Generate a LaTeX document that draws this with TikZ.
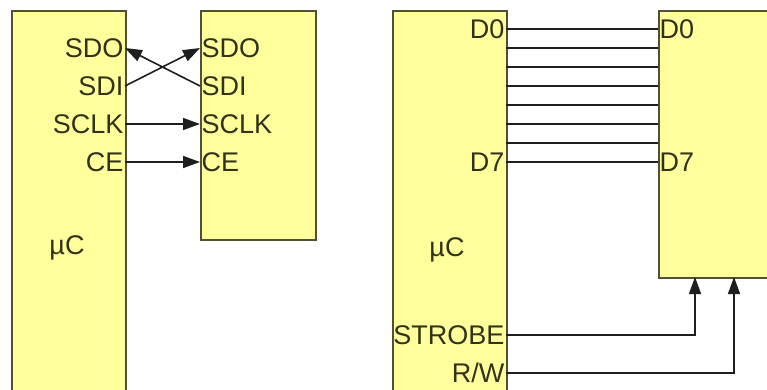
\documentclass[tikz,border=0pt]{standalone}
\usepackage{fontspec}
\setmainfont{Liberation Sans}
\usetikzlibrary{arrows.meta, math}
\definecolor{chipfill}{RGB}{255,255,155}
\definecolor{chipedge}{RGB}{80,80,55}
\definecolor{pintext}{RGB}{50,50,25}
\definecolor{wire}{RGB}{30,30,30}

\tikzset{
 chip/.style={draw=chipedge, fill=chipfill, line width=1.7pt, rectangle, inner sep=0pt},
 pin/.style={text=pintext, font=\fontsize{27}{31}\selectfont, inner sep=1.5pt},
 sig/.style={draw=wire, line width=1.6pt},
 tip/.style={-{Triangle[length=17pt,width=12pt]}},
}

\begin{document}
\begin{tikzpicture}[x=1pt,y=-1pt]
\tikzmath{
\dy=38;
\db=19;
}
\useasboundingbox (0,0) rectangle (767,390);
\clip (0,0) rectangle (767,390);
%serial:
%chips
\node[chip, anchor=north west, minimum width=114pt, minimum height=400pt] (mcuS) at (11,10) {};
\node[chip, anchor=north west, minimum width=115pt, minimum height=229pt] (devS) at (200,10) {};
\node[pin] (labS) at (67,248) {µC};
%pins
\foreach \i/\name in {0/SDO,1/SDI,2/SCLK,3/CE}{
 \tikzmath{
   \yp=48+\i*\dy;
 }
 \coordinate (mS\i) at (125,\yp);
 \coordinate (dS\i) at (200,\yp);
 \node[pin, anchor=east] (mSl\i) at (mS\i) {\name};
 \node[pin, anchor=west] (dSl\i) at (dS\i) {\name};
}
%wires
\draw[sig,tip] (mS1) -- (dS0);
\draw[sig,tip] (dS1) -- (mS0);
\draw[sig,tip] (mS2) -- (dS2);
\draw[sig,tip] (mS3) -- (dS3);

%parallel:
%chips
\node[chip, anchor=north west, minimum width=114pt, minimum height=400pt] (mcuP) at (392,10) {};
\node[chip, anchor=north west, minimum width=130pt, minimum height=267pt] (devP) at (658,10) {};
\node[pin] (labP) at (447,250) {µC};
%bus
\foreach \i in {0,...,7}{
 \tikzmath{
   \yp=29+\i*\db;
 }
 \coordinate (mP\i) at (506,\yp);
 \coordinate (dP\i) at (658,\yp);
 \draw[sig] (mP\i) -- (dP\i);
}
\node[pin, anchor=east] (mPl0) at (mP0) {D0};
\node[pin, anchor=west] (dPl0) at (dP0) {D0};
\node[pin, anchor=east] (mPl7) at (mP7) {D7};
\node[pin, anchor=west] (dPl7) at (dP7) {D7};
%control
\coordinate (strobeOut) at (506,335);
\coordinate (rwOut) at (506,373);
\coordinate (strobeIn) at (695,277);
\coordinate (rwIn) at (734,277);
\node[pin, anchor=east] (strobeLab) at (strobeOut) {STROBE};
\node[pin, anchor=east] (rwLab) at (rwOut) {R/W};
\draw[sig,tip] (strobeOut) -| (strobeIn);
\draw[sig,tip] (rwOut) -| (rwIn);
\end{tikzpicture}
\end{document}
